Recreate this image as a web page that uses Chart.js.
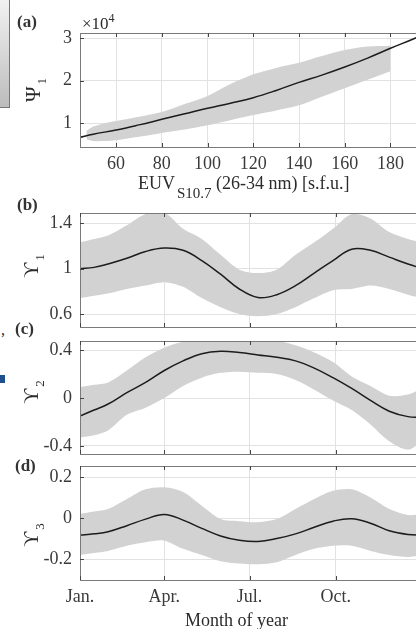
<!DOCTYPE html>
<html>
<head>
<meta charset="utf-8">
<script src="https://cdn.jsdelivr.net/npm/chart.js@4.4.1/dist/chart.umd.min.js"></script>
<style>
  html, body { margin: 0; padding: 0; background: #fff; }
  #fig {
    position: relative; width: 416px; height: 629px; overflow: hidden; background: #fff;
    font-family: "Liberation Serif", "Times New Roman", serif; color: #2b2b2b;
  }
  #fig canvas { position: absolute; left: 0; }
  .lbl { position: absolute; font-size: 18px; line-height: 1; white-space: nowrap; }
  .plbl { position: absolute; font-size: 17px; font-weight: bold; line-height: 1; color: #333; }
  .ytitle {
    position: absolute; font-size: 21px; line-height: 1; white-space: nowrap;
    transform: translate(-50%, -50%) rotate(-90deg);
  }
  .ytitle span { font-size: 13px; position: relative; top: 6px; margin-left: 2px; }
  #cbar {
    position: absolute; left: 0; top: 0; width: 9px; height: 107px;
    background: linear-gradient(#f2f2f2, #bcbcbc); border-right: 1px solid #777; border-bottom: 1px solid #777;
  }
</style>
</head>
<body>
<div id="fig">
  <div id="cbar"></div>
  <div class="lbl" style="left:1px; top:322px; font-size:16px;">,</div>
  <div style="position:absolute; left:0; top:375px; width:5px; height:8px; background:#1f4f8f;"></div>

  <canvas id="panelA" width="422" height="164" style="top:13px;"></canvas>
  <canvas id="panelB" width="422" height="154" style="top:193px;"></canvas>
  <canvas id="panelC" width="422" height="153" style="top:321px;"></canvas>
  <canvas id="panelD" width="422" height="164" style="top:446px;"></canvas>

  <div class="plbl" style="left:17px; top:13px;">(a)</div>
  <div class="plbl" style="left:17px; top:196px;">(b)</div>
  <div class="plbl" style="left:15px; top:320px;">(c)</div>
  <div class="plbl" style="left:15px; top:457px;">(d)</div>

  <div class="lbl" style="left:82px; top:15px; font-size:17px;">&times;10<span style="font-size:12px; position:relative; top:-7px;">4</span></div>

  <div class="ytitle" style="left:33px; top:90px;">&Psi;<span>1</span></div>
  <div class="ytitle" style="left:31px; top:266px;">&#978;<span>1</span></div>
  <div class="ytitle" style="left:31px; top:392px;">&#978;<span>2</span></div>
  <div class="ytitle" style="left:31px; top:535px;">&#978;<span>3</span></div>

  <div class="lbl" style="left:138px; top:174px;">EUV<span style="font-size:15px; position:relative; top:9px; margin-left:2px;">S10.7</span> (26-34 nm) [s.f.u.]</div>
  <div class="lbl" style="left:185px; top:611px;">Month of year</div>
</div>

<script>
// ─── Data ───

// Panel (a): Psi_1 (x 1e4) against EUV S10.7
var euvFitX = [44, 50, 60, 70, 80, 90, 100, 110, 120, 130, 140, 150, 160, 170, 180, 190, 196];
var psiFit = [0.665, 0.74, 0.84, 0.96, 1.09, 1.22, 1.35, 1.47, 1.6, 1.77, 1.96, 2.13, 2.32, 2.53, 2.76, 2.98, 3.12];
var euvBandX = [47, 50, 55, 60, 70, 80, 90, 100, 110, 120, 130, 140, 150, 160, 170, 180];
var psiBandHigh = [0.82, 0.92, 1.0, 1.05, 1.15, 1.26, 1.45, 1.64, 1.92, 2.15, 2.3, 2.42, 2.58, 2.72, 2.8, 2.82];
var psiBandLow = [0.62, 0.58, 0.58, 0.6, 0.68, 0.77, 0.85, 0.95, 1.07, 1.19, 1.3, 1.42, 1.62, 1.82, 2.02, 2.22];
var euvTicks = [60, 80, 100, 120, 140, 160, 180];
var psiTicks = [1, 2, 3];

// Panels (b)-(d): day of year
var dayX = [0, 15, 30, 50, 70, 90, 110, 130, 150, 170, 190, 210, 230, 250, 270, 290, 310, 330, 350, 365];
var monthTicks = [0, 90, 181, 273];
var monthLabels = ["Jan.", "Apr.", "Jul.", "Oct."];

var ups1Fit = [1.0, 1.01, 1.04, 1.09, 1.15, 1.18, 1.16, 1.07, 0.95, 0.82, 0.745, 0.77, 0.85, 0.96, 1.07, 1.17, 1.16, 1.1, 1.04, 1.0];
var ups1High = [1.23, 1.26, 1.29, 1.38, 1.48, 1.49, 1.35, 1.26, 1.12, 0.99, 0.96, 0.99, 1.12, 1.23, 1.35, 1.48, 1.44, 1.32, 1.26, 1.23];
var ups1Low = [0.74, 0.76, 0.78, 0.82, 0.85, 0.88, 0.84, 0.74, 0.66, 0.6, 0.58, 0.6, 0.66, 0.74, 0.81, 0.82, 0.85, 0.82, 0.77, 0.74];
var ups1Ticks = [0.6, 1, 1.4];

var ups2Fit = [-0.15, -0.1, -0.05, 0.045, 0.13, 0.23, 0.31, 0.37, 0.39, 0.38, 0.36, 0.34, 0.31, 0.25, 0.17, 0.08, -0.02, -0.11, -0.155, -0.16];
var ups2High = [0.09, 0.11, 0.13, 0.23, 0.34, 0.42, 0.47, 0.48, 0.48, 0.48, 0.48, 0.48, 0.44, 0.38, 0.3, 0.18, 0.1, 0.02, 0.03, 0.08];
var ups2Low = [-0.33, -0.31, -0.27, -0.14, -0.08, 0.0, 0.1, 0.17, 0.21, 0.22, 0.21, 0.2, 0.15, 0.07, -0.02, -0.1, -0.22, -0.36, -0.43, -0.36];
var ups2Ticks = [-0.4, 0, 0.4];

var ups3Fit = [-0.083, -0.077, -0.067, -0.037, -0.005, 0.018, -0.01, -0.05, -0.087, -0.108, -0.114, -0.1, -0.077, -0.045, -0.015, -0.003, -0.025, -0.062, -0.08, -0.083];
var ups3High = [0.02, 0.032, 0.044, 0.093, 0.14, 0.15, 0.127, 0.06, -0.005, -0.015, -0.02, -0.005, 0.044, 0.093, 0.133, 0.14, 0.1, 0.044, 0.015, 0.02];
var ups3Low = [-0.18, -0.17, -0.16, -0.135, -0.118, -0.11, -0.15, -0.18, -0.21, -0.222, -0.225, -0.215, -0.18, -0.15, -0.135, -0.135, -0.16, -0.18, -0.19, -0.18];
var ups3Ticks = [-0.2, 0, 0.2];

// ─── Styling ───

var fontFamily = '"Liberation Serif", "Times New Roman", serif';
var tickColor = "#3a3a3a";
var gridColor = "#e2e2e2";
var bandColor = "#d2d2d2";
var lineColor = "#1c1c1c";

function toPoints(xs, ys) {
  return xs.map(function (x, i) { return { x: x, y: ys[i] }; });
}

// box around the plot area plus short inward ticks (matlab style)
var framePlugin = {
  id: "frame",
  afterDatasetsDraw: function (chart) {
    var a = chart.chartArea;
    var ctx = chart.ctx;
    ctx.save();
    ctx.strokeStyle = "#7a7a7a";
    ctx.lineWidth = 1;
    ctx.strokeRect(a.left + 0.5, a.top + 0.5, a.right - a.left, a.bottom - a.top);
    ctx.strokeStyle = "#444";
    ctx.beginPath();
    var xs = chart.scales.x;
    xs.ticks.forEach(function (t) {
      var px = Math.round(xs.getPixelForValue(t.value)) + 0.5;
      ctx.moveTo(px, a.top);
      ctx.lineTo(px, a.top + 4);
      ctx.moveTo(px, a.bottom);
      ctx.lineTo(px, a.bottom - 4);
    });
    var ys = chart.scales.y;
    ys.ticks.forEach(function (t) {
      var py = Math.round(ys.getPixelForValue(t.value)) + 0.5;
      ctx.moveTo(a.left, py);
      ctx.lineTo(a.left + 4, py);
    });
    ctx.stroke();
    ctx.restore();
  },
};

function makePanel(id, cfg) {
  var canvas = document.getElementById(id);
  if (!canvas) return;

  new Chart(canvas, {
    type: "line",
    data: {
      datasets: [
        {
          data: toPoints(cfg.fitX, cfg.fit),
          borderColor: lineColor,
          borderWidth: 1.5,
          pointRadius: 0,
          fill: false,
          tension: 0.4,
        },
        {
          data: toPoints(cfg.bandX, cfg.high),
          borderWidth: 0,
          borderColor: bandColor,
          backgroundColor: bandColor,
          pointRadius: 0,
          tension: 0.3,
          fill: "+1",
        },
        {
          data: toPoints(cfg.bandX, cfg.low),
          borderWidth: 0,
          borderColor: bandColor,
          pointRadius: 0,
          tension: 0.3,
          fill: false,
        },
      ],
    },
    options: {
      responsive: false,
      animation: false,
      events: [],
      layout: { padding: { top: 20, left: 0, right: 0, bottom: cfg.xLabels ? 0 : 20 } },
      plugins: {
        legend: { display: false },
        tooltip: { enabled: false },
      },
      scales: {
        x: {
          type: "linear",
          min: cfg.xMin,
          max: cfg.xMax,
          border: { display: false },
          grid: { color: gridColor, drawTicks: false },
          ticks: {
            display: !!cfg.xLabels,
            padding: 6,
            color: tickColor,
            font: { family: fontFamily, size: 18 },
            callback: function (value, index) {
              return cfg.xLabels ? cfg.xLabels[index] : "";
            },
          },
          afterBuildTicks: function (axis) {
            axis.ticks = cfg.xTicks.map(function (v) { return { value: v }; });
          },
          afterFit: function (axis) {
            axis.height = cfg.xLabels ? 30 : 0;
          },
        },
        y: {
          type: "linear",
          min: cfg.yMin,
          max: cfg.yMax,
          border: { display: false },
          grid: { color: gridColor, drawTicks: false },
          ticks: {
            padding: 8,
            color: tickColor,
            font: { family: fontFamily, size: 18 },
            callback: function (value) {
              return String(value);
            },
          },
          afterBuildTicks: function (axis) {
            axis.ticks = cfg.yTicks.map(function (v) { return { value: v }; });
          },
          afterFit: function (axis) {
            axis.width = 80;
          },
        },
      },
    },
    plugins: [framePlugin],
  });
}

// ─── Init ───

makePanel("panelA", {
  xMin: 44.2, xMax: 193.8, xTicks: euvTicks,
  xLabels: euvTicks.map(function (v) { return String(v); }),
  yMin: 0.44, yMax: 3.12, yTicks: psiTicks,
  fitX: euvFitX, fit: psiFit, bandX: euvBandX, high: psiBandHigh, low: psiBandLow,
});

makePanel("panelB", {
  xMin: 0, xMax: 365, xTicks: monthTicks, xLabels: null,
  yMin: 0.486, yMax: 1.488, yTicks: ups1Ticks,
  fitX: dayX, fit: ups1Fit, bandX: dayX, high: ups1High, low: ups1Low,
});

makePanel("panelC", {
  xMin: 0, xMax: 365, xTicks: monthTicks, xLabels: null,
  yMin: -0.467, yMax: 0.476, yTicks: ups2Ticks,
  fitX: dayX, fit: ups2Fit, bandX: dayX, high: ups2High, low: ups2Low,
});

makePanel("panelD", {
  xMin: 0, xMax: 365, xTicks: monthTicks, xLabels: monthLabels,
  yMin: -0.302, yMax: 0.254, yTicks: ups3Ticks,
  fitX: dayX, fit: ups3Fit, bandX: dayX, high: ups3High, low: ups3Low,
});
</script>
</body>
</html>
